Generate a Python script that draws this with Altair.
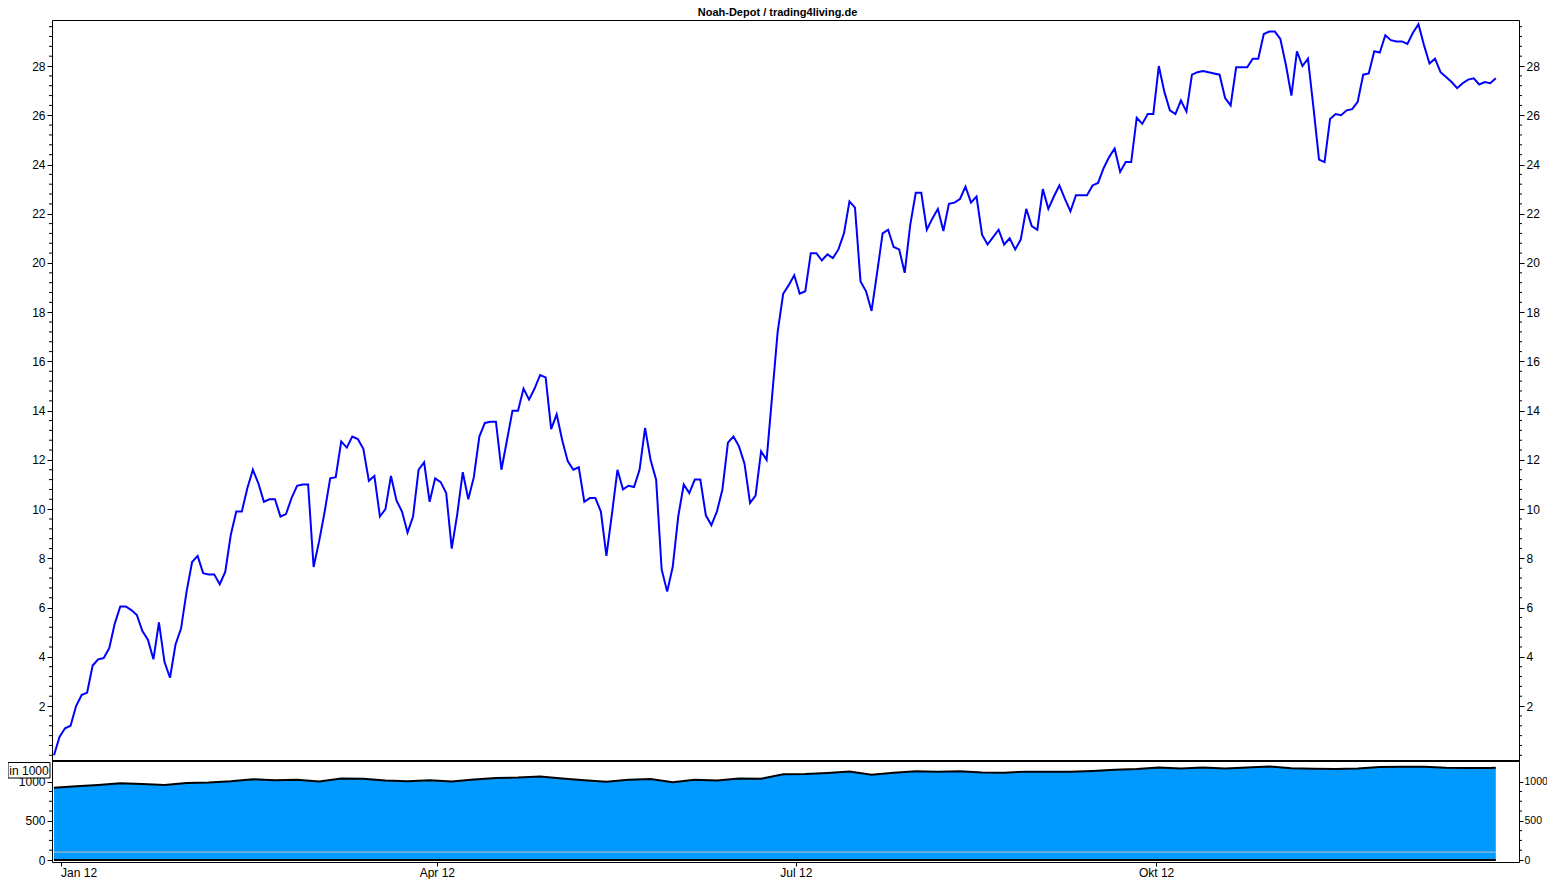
import altair as alt
import pandas as pd

TITLE = "Noah-Depot / trading4living.de"
FONT = "Liberation Sans"

# Depot performance line (one value per trading day)
LINE_VALUES = [
    0.0, 0.75, 1.1, 1.2, 2.0, 2.45, 2.55, 3.65, 3.9, 3.95,
    4.35, 5.35, 6.05, 6.05, 5.9, 5.7, 5.05, 4.7, 3.9, 5.4,
    3.8, 3.15, 4.5, 5.15, 6.65, 7.85, 8.1, 7.4, 7.35, 7.35,
    6.95, 7.45, 8.95, 9.9, 9.9, 10.85, 11.6, 11.05, 10.3, 10.4,
    10.4, 9.7, 9.8, 10.45, 10.95,
    11.0, 11.0, 7.65, 8.7, 9.9, 11.25, 11.3, 12.75, 12.5, 12.95,
    12.85, 12.45, 11.15, 11.35, 9.7, 10.0, 11.35, 10.35, 9.9, 9.05,
    9.7, 11.6, 11.9, 10.3, 11.25, 11.1, 10.65, 8.4, 9.8, 11.5,
    10.4, 11.3, 12.95, 13.5, 13.55, 13.55, 11.6, 12.8, 14.0, 14.0,
    14.9, 14.45, 14.9, 15.45, 15.35,
    13.25, 13.85, 12.8, 11.95, 11.6, 11.7, 10.3, 10.45, 10.45, 9.9,
    8.1, 9.8, 11.6, 10.8, 10.95, 10.9, 11.6, 13.3, 12.0, 11.2,
    7.55, 6.65, 7.65, 9.7, 11.0, 10.65, 11.2, 11.2, 9.75, 9.35,
    9.9, 10.8, 12.7, 12.95, 12.55, 11.85, 10.25, 10.55, 12.35, 12.0,
    14.6, 17.2,
    18.75, 19.1, 19.5, 18.75, 18.85, 20.4, 20.4, 20.1, 20.35, 20.2,
    20.55, 21.2, 22.5, 22.25, 19.25, 18.85, 18.05, 19.6, 21.2, 21.35,
    20.65, 20.55, 19.6, 21.55, 22.85, 22.85, 21.35, 21.8, 22.2, 21.3,
    22.4, 22.45, 22.6, 23.1, 22.45, 22.7, 21.15, 20.75, 21.05, 21.35,
    20.75, 21.0, 20.55, 20.95, 22.2, 21.5,
    21.35, 23.0, 22.2, 22.7, 23.15, 22.6, 22.1, 22.75, 22.75, 22.75,
    23.15, 23.25, 23.85, 24.3, 24.65, 23.7, 24.1, 24.1, 25.9, 25.65,
    26.05, 26.05, 28.0, 26.95, 26.2, 26.05, 26.6, 26.15, 27.65, 27.75,
    27.8, 27.75, 27.7, 27.65, 26.7, 26.4, 27.95, 27.95, 27.95, 28.3,
    28.3,
    29.3, 29.4, 29.4, 29.1, 28.05, 26.8, 28.6, 28.0, 28.3, 26.3,
    24.2, 24.1, 25.85, 26.05, 26.0, 26.2, 26.25, 26.55, 27.65, 27.7,
    28.6, 28.55, 29.25, 29.05, 29.0, 29.0, 28.9, 29.35, 29.7, 28.85,
    28.1, 28.3, 27.75, 27.55, 27.35, 27.1, 27.3, 27.45, 27.5, 27.25,
    27.35, 27.3, 27.5,
]

# Depot value (in 1000), sampled along the same day index
AREA_IDX = list(range(0, 261, 4)) + [261]
AREA_VALUES = [
    923, 941, 959, 979, 970, 958, 984, 991, 1006, 1030,
    1019, 1024, 1003, 1041, 1038, 1015, 1007, 1018, 1001, 1027,
    1048, 1052, 1066, 1041, 1018, 998, 1024, 1034, 994, 1026,
    1014, 1039, 1037, 1096, 1097, 1111, 1131, 1090, 1114, 1134,
    1128, 1132, 1118, 1115, 1128, 1128, 1127, 1137, 1151, 1162,
    1181, 1169, 1180, 1169, 1181, 1194, 1170, 1166, 1163, 1168,
    1187, 1191, 1189, 1177, 1176, 1175, 1177,
]

X_TICKS = [1.2, 69.3, 134.3, 199.5]
X_LABELS = ["Jan 12", "Apr 12", "Jul 12", "Okt 12"]
TOP_MAJOR = [2, 4, 6, 8, 10, 12, 14, 16, 18, 20, 22, 24, 26, 28]
TOP_MINOR = [round(k * 0.4, 1) for k in range(75) if k % 5 != 0 or k == 0]
BOTTOM_MAJOR = [0, 500, 1000]
BOTTOM_MINOR = [125, 250, 375, 625, 750, 875]
REF_LEVELS = [0, 100]
REF_COLORS = ["#000000", "#C0C0C0"]
REF_WIDTHS = [2, 1]
BOX_TEXT = ["in 1000"]

TOP_DOMAIN = [-0.19, 29.87]
BOTTOM_DOMAIN = [-25.5, 1264]
X_DOMAIN = [-0.36, 265.2]

W, H = 1467, 842
TOP_RANGE = [740, 0]
BOTTOM_RANGE = [842, 741]
MAJOR_TICK, MINOR_TICK = 5, 3

df_line = pd.DataFrame({"i": list(range(len(LINE_VALUES))), "v": LINE_VALUES})
df_area = pd.DataFrame({"i": AREA_IDX, "a": AREA_VALUES})
df_ref = pd.DataFrame({
    "x0": [0] * len(REF_LEVELS),
    "x1": [len(LINE_VALUES) - 1] * len(REF_LEVELS),
    "lvl": REF_LEVELS,
    "col": REF_COLORS,
    "w": REF_WIDTHS,
})
df_top_minor = pd.DataFrame({"t": TOP_MINOR})
df_bottom_minor = pd.DataFrame({"t": BOTTOM_MINOR})
df_box = pd.DataFrame({"t": BOX_TEXT})

x_label_expr = ""
for val, lab in zip(X_TICKS, X_LABELS):
    x_label_expr += f"datum.value == {val} ? '{lab}' : "
x_label_expr += "''"

x_scale = alt.Scale(domain=X_DOMAIN, nice=False, zero=False)
x_axis = alt.Axis(
    values=X_TICKS, labelExpr=x_label_expr, tickSize=4, labelPadding=1,
    labelFlush=False, labelOverlap=False,
    labelAlign={"condition": {"test": "datum.value < 10", "value": "left"}, "value": "center"},
)


def X(field):
    return alt.X(field, scale=x_scale, axis=x_axis, title=None)


def major_axis(orient, values, size=12, tick=MAJOR_TICK, pad=2):
    return alt.Axis(
        orient=orient, values=values, format="d", tickSize=tick, labelFontSize=size,
        labelOverlap=False, labelFlush=False, labelPadding=pad,
    )


def y_top(field, axis=None):
    return alt.Y(field, scale=alt.Scale(domain=TOP_DOMAIN, range=TOP_RANGE, nice=False, zero=False),
                 axis=axis, title=None)


def y_bottom(field, axis=None):
    return alt.Y(field, scale=alt.Scale(domain=BOTTOM_DOMAIN, range=BOTTOM_RANGE, nice=False, zero=False),
                 axis=axis, title=None)


def minor_ticks(df, yfun):
    left = alt.Chart(df).mark_rule(color="black", strokeWidth=1).encode(
        y=yfun("t:Q"), x=alt.value(-MINOR_TICK), x2=alt.value(0))
    right = alt.Chart(df).mark_rule(color="black", strokeWidth=1).encode(
        y=yfun("t:Q"), x=alt.value(W), x2=alt.value(W + MINOR_TICK))
    return [left, right]


area = alt.Chart(df_area).mark_area(color="#0099FF", opacity=1).encode(
    x=X("i:Q"),
    y=y_bottom("a:Q", major_axis("left", BOTTOM_MAJOR)),
    y2=alt.Y2(datum=0),
)

refs = alt.Chart(df_ref).mark_rule().encode(
    x=X("x0:Q"),
    x2="x1:Q",
    y=y_bottom("lvl:Q"),
    color=alt.Color("col:N", scale=None),
    strokeWidth=alt.StrokeWidth("w:Q", scale=None),
)

outline = alt.Chart(df_area).mark_line(color="black", strokeWidth=2).encode(
    x=X("i:Q"),
    y=y_bottom("a:Q", major_axis("right", BOTTOM_MAJOR, size=10.5, tick=4, pad=1)),
)

line_left = alt.Chart(df_line).mark_line(color="#0000FF", strokeWidth=2).encode(
    x=X("i:Q"),
    y=y_top("v:Q", major_axis("left", TOP_MAJOR)),
)

line_right = alt.Chart(df_line).mark_line(strokeOpacity=0).encode(
    x=X("i:Q"),
    y=y_top("v:Q", major_axis("right", TOP_MAJOR, pad=2)),
)

separator = alt.Chart(df_box).mark_rule(color="black", strokeWidth=2).encode(
    x=alt.value(0), x2=alt.value(W), y=alt.value(741),
)

box = alt.Chart(df_box).mark_rect(fill="white", stroke="black", strokeWidth=1).encode(
    x=alt.value(-44), x2=alt.value(-2), y=alt.value(742.5), y2=alt.value(758),
)

box_text = alt.Chart(df_box).mark_text(
    font=FONT, fontSize=12, color="black", align="center", baseline="middle"
).encode(
    x=alt.value(-23), y=alt.value(750.5), text="t:N",
)

layers = [area, refs, outline, line_left, line_right]
layers += minor_ticks(df_top_minor, y_top)
layers += minor_ticks(df_bottom_minor, y_bottom)
layers += [separator, box, box_text]

chart = alt.layer(*layers).resolve_scale(
    y="independent"
).properties(
    width=W, height=H,
    title=alt.TitleParams(TITLE, fontSize=11, fontWeight="bold", font=FONT, anchor="middle",
                          frame="group", offset=2, dx=-8, color="black"),
    padding={"left": 44, "top": 12, "right": 28, "bottom": 17},
    autosize=alt.AutoSizeParams(type="none"),
).configure_view(
    stroke="black", strokeWidth=1
).configure_axis(
    labelFont=FONT, labelFontSize=12, labelColor="black",
    tickColor="black", tickWidth=1, grid=False, domain=False,
)

chart.save("out.html", embed_options={"renderer": "svg", "actions": False})
